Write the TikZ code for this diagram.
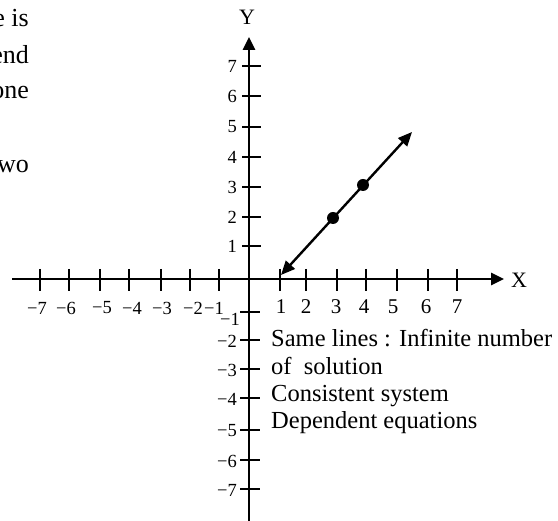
\documentclass[tikz,border=0pt]{standalone}
\usepackage{fontspec}
\setmainfont{Liberation Serif}
\usetikzlibrary{arrows.meta}
\begin{document}
\begin{tikzpicture}[x=1pt,y=-1pt,
  axisline/.style={line width=2.6pt},
  tickline/.style={line width=2.6pt},
  axtip/.style={-{Triangle[length=13pt,width=12pt]}},
  ticklab/.style={font=\fontsize{18.5}{21}\selectfont, inner sep=0pt},
  bigticklab/.style={font=\fontsize{21}{24}\selectfont, inner sep=0pt},
  axlab/.style={font=\fontsize{22}{25}\selectfont, inner sep=0pt},
  notetext/.style={font=\fontsize{24.5}{28}\selectfont, inner sep=0pt, anchor=base west},
  fragtext/.style={font=\fontsize{26}{30}\selectfont, inner sep=0pt, anchor=base east},
  dotmark/.style={circle, fill=black, inner sep=0pt, minimum size=12pt},
  lineend/.style={line width=2.4pt, {Triangle[length=14pt,width=12pt]}-{Triangle[length=14pt,width=12pt]}}]
\useasboundingbox (0,0) rectangle (558,521);

% text fragments at top left
\node[fragtext] (f1) at (29,27) {e is};
\node[fragtext] (f2) at (29,64) {end};
\node[fragtext] (f3) at (29,99) {one};
\node[fragtext] (f4) at (29,173) {wo};

% axes
\coordinate (ybot) at (249,521);
\coordinate (ytop) at (249,37);
\coordinate (xleft) at (12,279);
\coordinate (xright) at (504,279);
\draw[axisline,axtip] (ybot) -- (ytop);
\draw[axisline,axtip] (xleft) -- (xright);
\node[axlab] (ylab) at (247,17) {Y};
\node[axlab] (xlab) at (519,280) {X};

% x ticks and labels
\foreach \px/\lx/\t/\n in {40/37/−7/m7, 69/66/−6/m6, 100/102/−5/m5, 129/132/−4/m4, 161/162/−3/m3, 190/193/−2/m2, 219/214/−1/m1}{
  \draw[tickline] (\px,269) -- (\px,291);
  \node[ticklab] (xl\n) at (\lx,308) {\t};
}
\foreach \px/\lx/\t in {280/281/1, 306/306/2, 337/336/3, 366/364/4, 397/393/5, 428/426/6, 457/457/7}{
  \draw[tickline] (\px,269) -- (\px,291);
  \node[bigticklab] (xlp\t) at (\lx,307) {\t};
}

% y ticks and labels
\foreach \py/\t in {246/1, 217/2, 187/3, 157/4, 127/5, 96/6, 66/7}{
  \draw[tickline] (242,\py) -- (261,\py);
  \node[ticklab, anchor=east] (ylp\t) at (237,\py) {\t};
}
\foreach \py/\t/\n in {340/−2/m2, 369/−3/m3, 398/−4/m4, 430/−5/m5, 460/−6/m6, 489/−7/m7}{
  \draw[tickline] (240,\py) -- (260,\py);
  \node[ticklab, anchor=east] (yl\n) at (237,\py+1) {\t};
}
\draw[tickline] (240,312) -- (260,312);
\node[ticklab, anchor=east] (ylm1) at (240,319) {−1};

% the line with two points
\coordinate (lstart) at (281,275);
\coordinate (lend) at (412,132);
\draw[lineend] (lstart) -- (lend);
\node[dotmark] (p1) at (333,218) {};
\node[dotmark] (p2) at (363,185) {};

% note
\node[notetext] (n1) at (271,347) {Same lines : Infinite number};
\node[notetext] (n2) at (271,375) {of\ \ solution};
\node[notetext] (n3) at (271,402) {Consistent system};
\node[notetext] (n4) at (271,429) {Dependent equations};
\end{tikzpicture}
\end{document}
